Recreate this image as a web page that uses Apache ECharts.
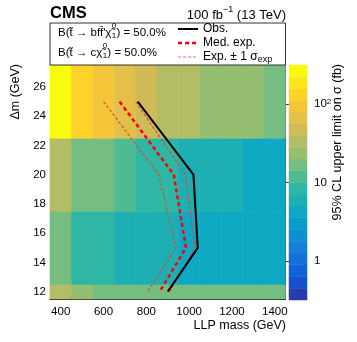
<!DOCTYPE html>
<html><head><meta charset="utf-8">
<script src="https://cdn.jsdelivr.net/npm/echarts/dist/echarts.min.js"></script>
<style>html,body{margin:0;padding:0;background:#fff}#c{width:357px;height:342px}</style>
</head><body><div id="c"></div>
<script>
// ---- data ----
const massCenters = [400, 500, 600, 700, 800, 900, 1000, 1100, 1200, 1300, 1400];
const dmCenters = [10, 15, 20, 25];
const limitDm10 = [33, 24, 17, 17, 17, 17, 17, 17, 17, 17, 17];
const limitDm15 = [17, 8.5, 8.5, 6, 6, 6, 4.2, 4.2, 4.2, 4.2, 4.2];
const limitDm20 = [33, 17, 17, 12, 8.5, 8.5, 6, 6, 6, 4.2, 4.2];
const limitDm25 = [250, 130, 95, 65, 48, 33, 33, 24, 24, 24, 17];
const contourDm = [25, 20, 15, 12];
const obsMass = [760, 1020, 1040, 900];
const expMass = [675, 928, 985, 862];
const expUpMass = [600, 858, 938, 806];
const expDownMass = [750, 982, 1028, 910];
const massTicks = [400, 600, 800, 1000, 1200, 1400];
const dmTicks = [12, 14, 16, 18, 20, 22, 24, 26];
const zTicks = [1, 10, 100];
const zMinorTicks = [0.4,0.5,0.6,0.7,0.8,0.9,2,3,4,5,6,7,8,9,20,30,40,50,60,70,80,90,200,300];

// ---- layout / style helpers ----
const binW = 100, binH = 5;
const xMin = 350, xMax = 1450, yMin = 11.5, yMax = 27.5;
const zLogMin = -0.5, zLogMax = 2.5, nContours = 20;
const massMinor = [], dmMinor = [];
for (let v = xMin; v <= xMax; v += 50) if (massTicks.indexOf(v) < 0) massMinor.push(v);
for (let v = yMin; v <= yMax; v += 0.5) if (dmTicks.indexOf(v) < 0) dmMinor.push(v);

const stops = [0, 0.125, 0.25, 0.375, 0.5, 0.625, 0.75, 0.875, 1];
const pr = [0.2082, 0.0592, 0.0780, 0.0232, 0.1802, 0.5301, 0.8186, 0.9956, 0.9764];
const pg = [0.1664, 0.3599, 0.5041, 0.6419, 0.7178, 0.7492, 0.7328, 0.7862, 0.9832];
const pb = [0.5293, 0.8684, 0.8385, 0.7914, 0.6425, 0.4662, 0.3499, 0.1968, 0.0539];
function bird(f) {
  f = Math.max(0, Math.min(1, f));
  let i = 0; while (i < stops.length - 2 && f > stops[i + 1]) i++;
  const t = (f - stops[i]) / (stops[i + 1] - stops[i]);
  const c = a => Math.round(255 * (a[i] + t * (a[i + 1] - a[i])));
  return 'rgb(' + c(pr) + ',' + c(pg) + ',' + c(pb) + ')';
}
function bandOf(v) {
  const b = Math.floor((Math.log10(v) - zLogMin) / ((zLogMax - zLogMin) / nContours));
  return Math.max(0, Math.min(nContours - 1, b));
}
function bandColor(b) { return bird((b + 1) / nContours); }

const rows = [limitDm10, limitDm15, limitDm20, limitDm25];
const cells = [];
rows.forEach((row, r) => row.forEach((v, c) => cells.push([massCenters[c], dmCenters[r], v])));
const bands = []; for (let i = 0; i < nContours; i++) bands.push(i);
const zip = (xs, ys) => xs.map((x, i) => [x, ys[i]]);

const FONT = '"Liberation Sans", Arial, Helvetica, sans-serif';
const ctx = document.createElement('canvas').getContext('2d');
function tw(t, size, weight) { ctx.font = (weight || 'normal') + ' ' + size + 'px ' + FONT; return ctx.measureText(t).width; }

function txt(x, y, text, size, opts) {
  return Object.assign({ type: 'text', x: x, y: y, z: 100,
    style: Object.assign({ text: text, fontSize: size, fontFamily: FONT, fill: '#000',
      textAlign: 'left', textVerticalAlign: 'middle' }, (opts && opts.style) || {}) },
    (opts && opts.el) || {});
}

const graphics = [];
// legend box
graphics.push({ type: 'rect', z: 90, shape: { x: 50, y: 23, width: 235.5, height: 42 },
  style: { fill: '#fff', stroke: '#333', lineWidth: 1 } });
// BR texts with stacked chi indices
function brLine(y, partA) {
  const x0 = 58, s = 11.5;
  const wA = tw(partA, s);
  graphics.push(txt(x0, y, partA, s));
  graphics.push(txt(x0 + wA + 0.3, y - 7, '0', 8));
  graphics.push(txt(x0 + wA + 0.3, y + 2.5, '1', 8));
  graphics.push(txt(x0 + wA + 5, y, ') = 50.0%', s));
}
brLine(33, 'B(t\u0303 \u2192 bff\u0304\'\u03C7\u0303');
brLine(53, 'B(t\u0303 \u2192 c\u03C7\u0303');
// legend entries
graphics.push({ type: 'line', z: 100, shape: { x1: 178, y1: 29, x2: 198, y2: 29 }, style: { stroke: '#000', lineWidth: 2 } });
graphics.push({ type: 'line', z: 100, shape: { x1: 178, y1: 43, x2: 198, y2: 43 }, style: { stroke: '#ff0000', lineWidth: 2.5, lineDash: [4, 3] } });
graphics.push({ type: 'line', z: 100, shape: { x1: 178, y1: 57, x2: 198, y2: 57 }, style: { stroke: '#f07070', lineWidth: 1, lineDash: [3, 2] } });
graphics.push(txt(203, 29, 'Obs.', 12));
graphics.push(txt(203, 43, 'Med. exp.', 12));
const expTxt = 'Exp. \u00B1 1 \u03C3';
graphics.push(txt(203, 57, expTxt, 12));
graphics.push(txt(203 + tw(expTxt, 12), 60, 'exp', 9));
// header
graphics.push(txt(50, 13, 'CMS', 16.5, { style: { fontWeight: 'bold' } }));
const lumA = '100 fb', lumB = ' (13 TeV)';
const wB = tw(lumB, 13), wS = tw('\u22121', 9);
graphics.push(txt(286, 15, lumB, 13, { style: { textAlign: 'right' } }));
graphics.push(txt(286 - wB, 10, '\u22121', 9, { style: { textAlign: 'right' } }));
graphics.push(txt(286 - wB - wS, 15, lumA, 13, { style: { textAlign: 'right' } }));
// axis titles
graphics.push(txt(286, 326, 'LLP mass (GeV)', 12.5, { style: { textAlign: 'right' } }));
graphics.push(txt(16, 64, '\u0394m (GeV)', 12.5, { style: { textAlign: 'right' }, el: { rotation: Math.PI / 2 } }));
graphics.push(txt(338, 64, '95% CL upper limit on \u03C3 (fb)', 12.5, { style: { textAlign: 'right' }, el: { rotation: Math.PI / 2 } }));

const tickColor = '#111';
function mkX(pos, values, len, labels, line) {
  return { gridIndex: 0, type: 'value', position: pos, min: xMin, max: xMax,
    axisLine: { show: line, lineStyle: { color: '#222', width: 1 } },
    splitLine: { show: false },
    axisTick: { show: true, inside: true, length: len, customValues: values, lineStyle: { color: tickColor, width: 1 } },
    axisLabel: { show: labels, customValues: values, margin: 7, fontSize: 11.5, fontFamily: FONT, color: '#000', formatter: v => String(v) } };
}
function mkY(pos, values, len, labels, line) {
  return { gridIndex: 0, type: 'value', position: pos, min: yMin, max: yMax,
    axisLine: { show: line, lineStyle: { color: '#222', width: 1 } },
    splitLine: { show: false },
    axisTick: { show: true, inside: true, length: len, customValues: values, lineStyle: { color: tickColor, width: 1 } },
    axisLabel: { show: labels, customValues: values, margin: 4, fontSize: 11.5, fontFamily: FONT, color: '#000', formatter: v => String(v) } };
}

const option = {
  animation: false,
  backgroundColor: '#fff',
  grid: [
    { left: 50, top: 65, width: 235.5, height: 234 },
    { left: 289, top: 65, width: 18, height: 235 }
  ],
  xAxis: [
    mkX('bottom', massTicks, 7, true, true),
    mkX('bottom', massMinor, 3.5, false, false),
    mkX('top', massTicks, 7, false, true),
    mkX('top', massMinor, 3.5, false, false),
    { gridIndex: 1, type: 'value', min: 0, max: 1, show: false }
  ],
  yAxis: [
    mkY('left', dmTicks, 7, true, true),
    mkY('left', dmMinor, 3.5, false, false),
    mkY('right', dmTicks, 7, false, true),
    mkY('right', dmMinor, 3.5, false, false),
    { gridIndex: 1, type: 'value', position: 'right', min: zLogMin, max: zLogMax,
      axisLine: { show: false }, splitLine: { show: false },
      axisTick: { show: true, inside: true, length: 8, customValues: zTicks.map(Math.log10), lineStyle: { color: '#333' } },
      axisLabel: { show: true, customValues: zTicks.map(Math.log10), margin: 7, fontSize: 11.5, fontFamily: FONT, color: '#000',
        formatter: v => { const n = Math.round(v); return n >= 2 ? '{b|10}{s|' + n + '}' : String(Math.pow(10, n)); },
        rich: { b: { fontSize: 11.5, fontFamily: FONT, color: '#000' }, s: { fontSize: 8, fontFamily: FONT, color: '#000', verticalAlign: 'top', lineHeight: 8 } } } },
    { gridIndex: 1, type: 'value', position: 'right', min: zLogMin, max: zLogMax,
      axisLine: { show: false }, splitLine: { show: false },
      axisTick: { show: true, inside: true, length: 4, customValues: zMinorTicks.map(Math.log10), lineStyle: { color: '#333' } },
      axisLabel: { show: false } }
  ],
  series: [
    { type: 'custom', xAxisIndex: 0, yAxisIndex: 0, z: 1, data: cells, silent: true,
      renderItem: (params, api) => {
        const x = api.value(0), y = api.value(1), v = api.value(2);
        const p0 = api.coord([x - binW / 2, y + binH / 2]);
        const p1 = api.coord([x + binW / 2, y - binH / 2]);
        const r = echarts.graphic.clipRectByRect(
          { x: p0[0], y: p0[1], width: p1[0] - p0[0], height: p1[1] - p0[1] },
          { x: params.coordSys.x, y: params.coordSys.y, width: params.coordSys.width, height: params.coordSys.height });
        if (!r) return;
        const col = bandColor(bandOf(v));
        return { type: 'rect', shape: r, style: { fill: col, stroke: col, lineWidth: 0.6 } };
      } },
    { type: 'custom', xAxisIndex: 4, yAxisIndex: 4, z: 1, data: bands, silent: true,
      renderItem: (params, api) => {
        const i = api.value(0);
        const step = (zLogMax - zLogMin) / nContours;
        const p0 = api.coord([0, zLogMin + step * (i + 1)]);
        const p1 = api.coord([1, zLogMin + step * i]);
        const col = bandColor(i);
        return { type: 'rect', shape: { x: p0[0], y: p0[1], width: p1[0] - p0[0], height: p1[1] - p0[1] },
          style: { fill: col, stroke: col, lineWidth: 0.5 } };
      } },
    { type: 'line', xAxisIndex: 0, yAxisIndex: 0, z: 5, data: zip(expUpMass, contourDm), showSymbol: false, silent: true,
      lineStyle: { color: '#e8402c', width: 1.1, type: [3, 2] } },
    { type: 'line', xAxisIndex: 0, yAxisIndex: 0, z: 5, data: zip(expDownMass, contourDm), showSymbol: false, silent: true,
      lineStyle: { color: '#e8402c', width: 1.1, type: [3, 2] } },
    { type: 'line', xAxisIndex: 0, yAxisIndex: 0, z: 6, data: zip(expMass, contourDm), showSymbol: false, silent: true,
      lineStyle: { color: '#ff0000', width: 2.5, type: [4, 3] } },
    { type: 'line', xAxisIndex: 0, yAxisIndex: 0, z: 7, data: zip(obsMass, contourDm), showSymbol: false, silent: true,
      lineStyle: { color: '#000', width: 2 } }
  ],
  graphic: { elements: graphics }
};
const chart = echarts.init(document.getElementById('c'), null, { renderer: 'canvas' });
chart.setOption(option);
</script>
</body></html>
